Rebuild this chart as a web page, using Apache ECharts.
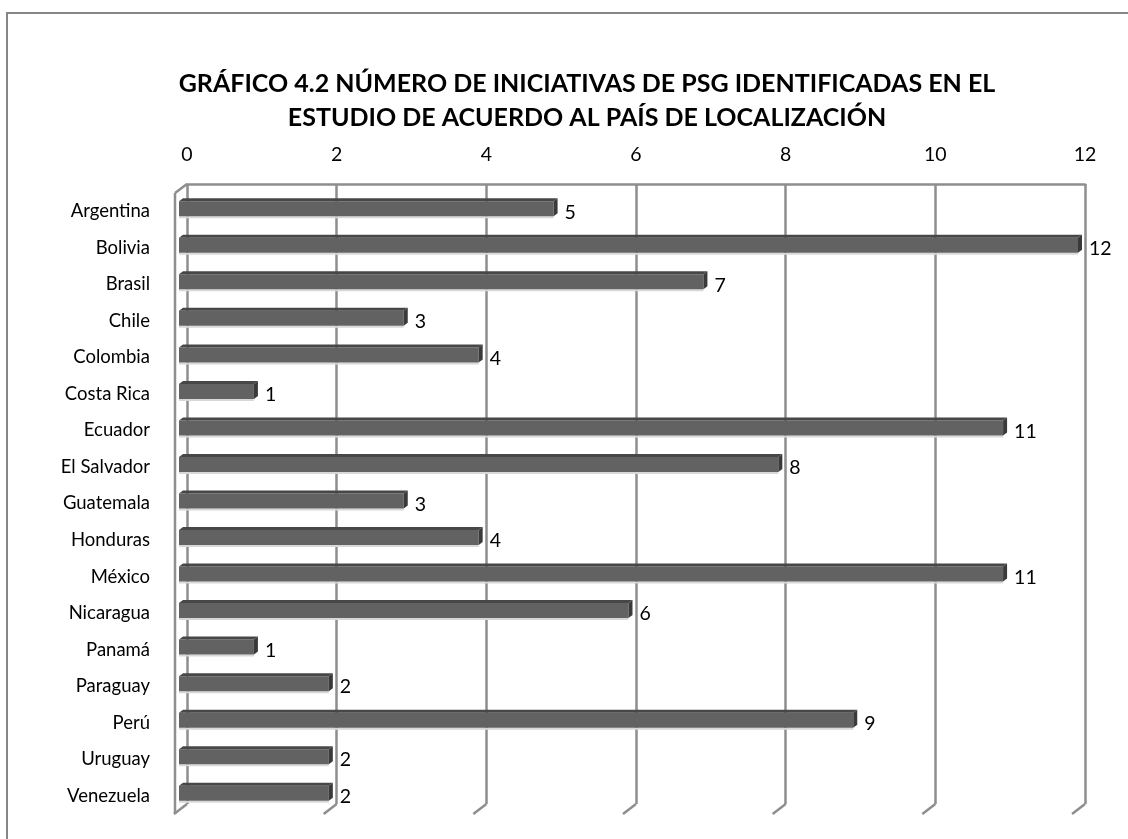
<!DOCTYPE html>
<html>
<head>
<meta charset="utf-8">
<script src="https://cdn.jsdelivr.net/npm/echarts@6/dist/echarts.min.js"></script>
<style>
html,body{margin:0;padding:0;background:#fff;}
#chart{width:1128px;height:839px;}
</style>
</head>
<body>
<div id="chart"></div>
<script>
const titleText = 'GRÁFICO 4.2 NÚMERO DE INICIATIVAS DE PSG IDENTIFICADAS EN EL\nESTUDIO DE ACUERDO AL PAÍS DE LOCALIZACIÓN';
const categories = ['Argentina','Bolivia','Brasil','Chile','Colombia','Costa Rica','Ecuador','El Salvador','Guatemala','Honduras','México','Nicaragua','Panamá','Paraguay','Perú','Uruguay','Venezuela'];
const values = [5,12,7,3,4,1,11,8,3,4,11,6,1,2,9,2,2];
const tickValues = [0,2,4,6,8,10,12];

const FONT = 'Lato, "Noto Sans", sans-serif';
const GRID_COLOR = '#8e8e8e';
const LABEL_SIZE = 18.5;
const NUM_SIZE = 19.5;

const chart = echarts.init(document.getElementById('chart'), null, {renderer:'canvas'});

function frameItem(params, api){
  const v = api.value(0);
  const r = params.coordSys;
  const x = api.coord([v, 0])[0];
  const bottom = r.y + r.height;
  const style = {stroke: GRID_COLOR, lineWidth: 2.5};
  const children = [
    {type:'line', shape:{x1:x, y1:bottom, x2:x-13, y2:bottom+10}, style}
  ];
  if (v === 0) {
    children.push({type:'line', shape:{x1:x, y1:r.y, x2:x-12, y2:r.y+9}, style});
    children.push({type:'line', shape:{x1:x-12, y1:r.y+9, x2:x-12, y2:bottom+10}, style});
  }
  return {type:'group', children};
}

function barItem(params, api){
  const idx = api.value(1);
  const val = api.value(0);
  const p0 = api.coord([0, idx]);
  const p1 = api.coord([val, idx]);
  const x0 = p0[0], x1 = p1[0], cy = p0[1];
  const yT = cy - 10, yB = cy + 5;
  const d = 4, dy = 3;
  return {type:'group', children:[
    {type:'rect', shape:{x:x0, y:yB, width:x1-x0, height:2}, style:{fill:'#d8d8d8'}},
    {type:'rect', shape:{x:x0, y:yT, width:x1-x0, height:yB-yT}, style:{fill:'#626262'}},
    {type:'polygon', shape:{points:[[x0,yT],[x1,yT],[x1+d,yT-dy],[x0+d,yT-dy]]}, style:{fill:'#474747'}},
    {type:'polygon', shape:{points:[[x1,yT],[x1+d,yT-dy],[x1+d,yB-dy],[x1,yB]]}, style:{fill:'#3a3a3a'}},
    {type:'text', style:{x:x1+d+7, y:cy+1, text:String(val), fill:'#000', font:NUM_SIZE + 'px ' + FONT, textAlign:'left', textVerticalAlign:'middle'}}
  ]};
}

const option = {
  backgroundColor:'#fff',
  animation:false,
  title:{
    text:titleText,
    left:582, top:62, textAlign:'center',
    textStyle:{fontFamily:FONT, fontSize:25, fontWeight:'bold', color:'#000', lineHeight:34}
  },
  graphic:[
    {type:'rect', shape:{x:7, y:13, width:1200, height:900}, style:{fill:'none', stroke:'#868686', lineWidth:2}, silent:true}
  ],
  grid:[
    {left:187, right:43, top:184, bottom:35},
    {left:179, right:50, top:193, bottom:25}
  ],
  xAxis:[
    {type:'value', gridIndex:0, position:'top', min:0, max:12, interval:2,
     axisLine:{show:true, lineStyle:{color:GRID_COLOR, width:2.5}},
     axisTick:{show:false},
     splitLine:{show:true, lineStyle:{color:GRID_COLOR, width:2.5}},
     axisLabel:{fontFamily:FONT, fontSize:NUM_SIZE, color:'#000', margin:19}},
    {type:'value', gridIndex:1, min:0, max:12, interval:2, show:false}
  ],
  yAxis:[
    {type:'category', gridIndex:0, data:categories, inverse:true, show:false},
    {type:'category', gridIndex:1, data:categories, inverse:true,
     axisLine:{show:false}, axisTick:{show:false},
     axisLabel:{fontFamily:FONT, fontSize:LABEL_SIZE, color:'#000', margin:29}}
  ],
  series:[
    {type:'custom', xAxisIndex:0, yAxisIndex:0, renderItem:frameItem,
     data:tickValues.map(v => [v, 0]), silent:true, z:1},
    {type:'custom', xAxisIndex:1, yAxisIndex:1, renderItem:barItem,
     data:values.map((v,i) => [v, i]), z:3}
  ]
};
chart.setOption(option);
</script>
</body>
</html>
